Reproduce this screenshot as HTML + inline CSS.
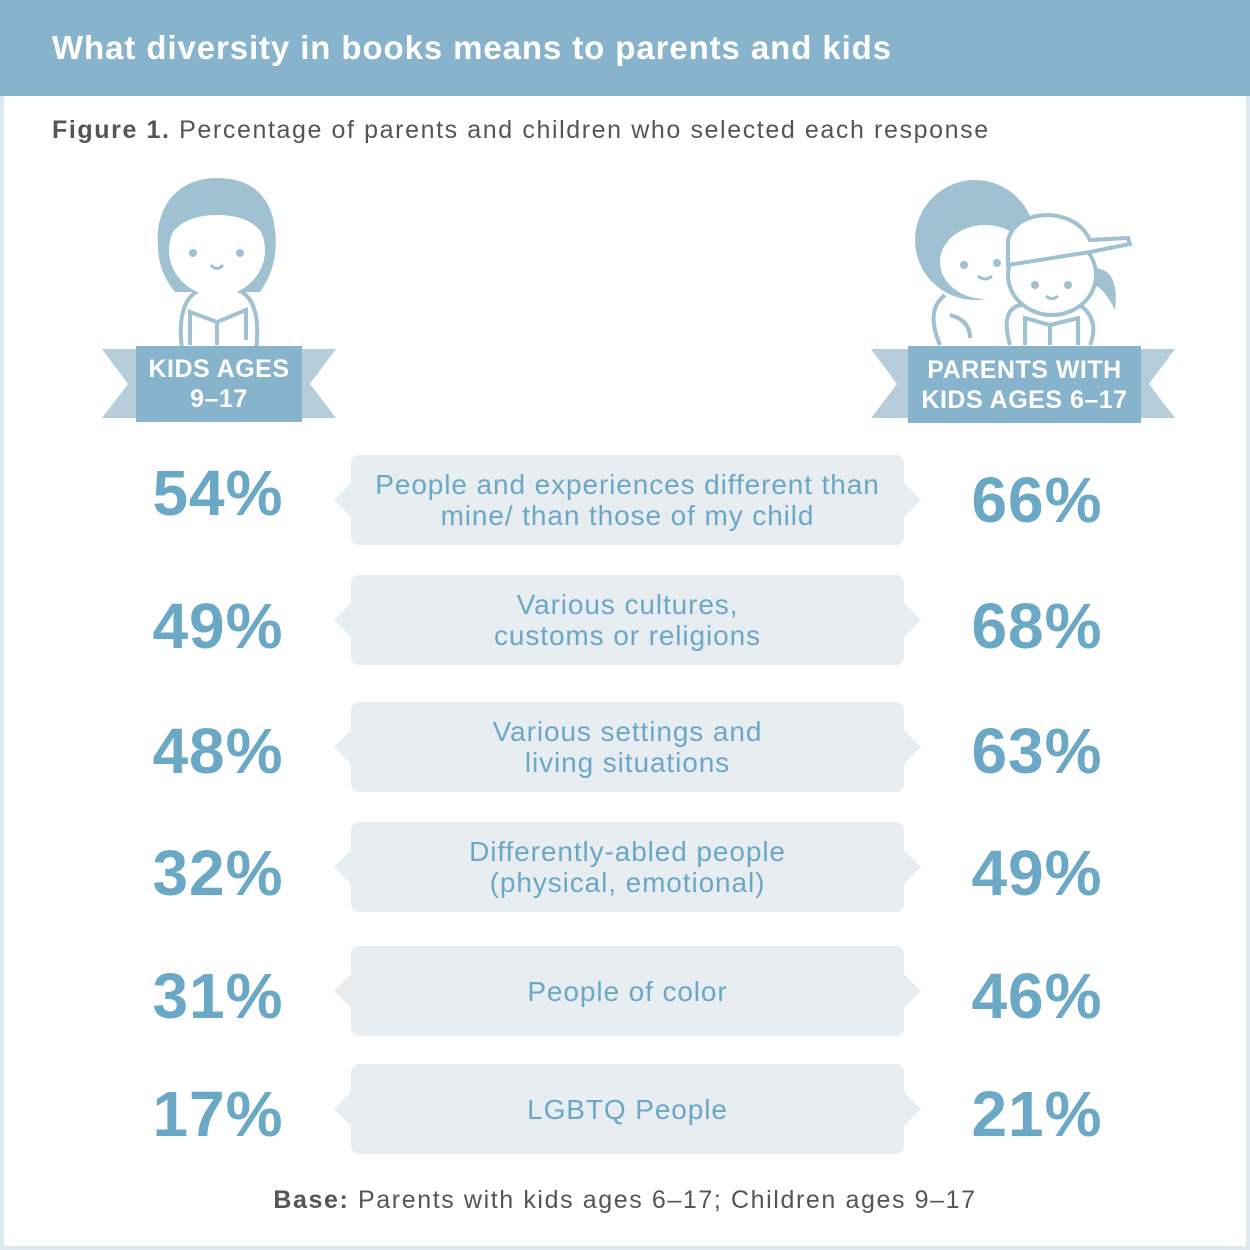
<!DOCTYPE html>
<html><head><style>
body{margin:0;width:1250px;height:1250px;background:#fff;font-family:"Liberation Sans",sans-serif;position:relative;overflow:hidden}
.frame{position:absolute;left:0;top:0;width:1242px;height:1242px;border:4px solid #dde8ef}
.hdr{position:absolute;left:0;top:0;width:1250px;height:96px;background:#87b3cc;color:#fff;font-size:33px;letter-spacing:0.9px;line-height:96px;padding-left:52px;box-sizing:border-box;font-weight:bold}
.fig{position:absolute;left:52px;top:116px;font-size:25px;letter-spacing:1.6px;color:#555}
.box{position:absolute;left:351px;width:553px;height:90px;background:#e8edf1;border-radius:8px;color:#6aa8c5;font-size:28px;letter-spacing:0.9px;text-align:center;display:flex;align-items:center;justify-content:center;line-height:31px}
.box:before{content:"";position:absolute;left:-17px;top:28px;border-right:17px solid #e8edf1;border-top:17px solid transparent;border-bottom:17px solid transparent}
.box:after{content:"";position:absolute;right:-17px;top:28px;border-left:17px solid #e8edf1;border-top:17px solid transparent;border-bottom:17px solid transparent}
.p{position:absolute;width:260px;text-align:center;font-size:64px;letter-spacing:1px;font-weight:bold;color:#6aa8c5;line-height:70px}
.l{left:88px}.r{left:907px}
.base{position:absolute;left:0;width:1250px;top:1186px;text-align:center;font-size:25px;letter-spacing:1.6px;color:#555}
.rib{position:absolute;color:#fff;font-weight:bold;font-size:25px;letter-spacing:0.5px;text-align:center;line-height:30px;background:#87b3cc;display:flex;align-items:center;justify-content:center}
</style></head><body>
<div class="frame"></div>
<div class="hdr">What diversity in books means to parents and kids</div>
<div class="fig"><b>Figure 1.</b> Percentage of parents and children who selected each response</div>

<svg width="1250" height="440" style="position:absolute;left:0;top:0">
<g fill="none" stroke="#a0c1d1" stroke-width="4">
<path d="M182 350 Q176 300 200 290 L238 290 Q262 300 256 350"/>
<path d="M190 345 L190 312 L217 322 L246 310 L246 340 M217 322 L217 345"/>
</g>
<path d="M217 178 C175 178 155 210 158 245 C158 265 165 280 175 292 L260 292 C272 275 278 255 275 230 C272 200 255 178 217 178Z" fill="#a0c1d1"/>
<ellipse cx="217" cy="250" rx="48" ry="46" fill="#fff"/>
<path d="M168 240 Q175 195 217 195 Q260 195 266 240 Q255 215 217 215 Q180 215 168 240Z" fill="#a0c1d1"/>
<circle cx="193" cy="253" r="4" fill="#a0c1d1"/><circle cx="240" cy="253" r="4" fill="#a0c1d1"/>
<path d="M211 265 Q217 272 223 265" stroke="#a0c1d1" stroke-width="3" fill="none"/>
<circle cx="975" cy="240" r="60" fill="#a0c1d1"/>
<ellipse cx="985" cy="262" rx="45" ry="37" fill="#fff"/>
<circle cx="964" cy="265" r="4" fill="#a0c1d1"/><circle cx="997" cy="263" r="4" fill="#a0c1d1"/>
<path d="M978 276 Q985 282 992 276" stroke="#a0c1d1" stroke-width="3" fill="none"/>
<g fill="none" stroke="#a0c1d1" stroke-width="4">
<path d="M940 345 Q925 310 945 295 M950 315 Q970 320 970 338"/>
<path d="M1010 345 Q1000 310 1020 305 L1080 305 Q1100 320 1090 345"/>
<path d="M1025 345 L1025 318 L1050 325 L1078 318 L1078 345 M1050 325 L1050 345"/>
</g>
<ellipse cx="1052" cy="275" rx="44" ry="40" fill="#fff" stroke="#a0c1d1" stroke-width="4"/>
<path d="M1008 265 L1008 240 Q1015 215 1050 215 Q1080 218 1090 240 L1128 238 L1130 244 L1090 252 L1008 265Z" fill="#fff" stroke="#a0c1d1" stroke-width="4"/>
<path d="M1095 268 Q1120 270 1115 310 Q1105 290 1095 285Z" fill="#a0c1d1"/>
<circle cx="1035" cy="285" r="4" fill="#a0c1d1"/><circle cx="1068" cy="285" r="4" fill="#a0c1d1"/>
<path d="M1046 296 Q1052 301 1058 296" stroke="#a0c1d1" stroke-width="3" fill="none"/>
<polygon points="102,349 140,349 140,418 102,418 128,384" fill="#b6cedb"/>
<polygon points="336,349 298,349 298,418 336,418 310,384" fill="#b6cedb"/>
<polygon points="871,349 912,349 912,418 871,418 897,384" fill="#b6cedb"/>
<polygon points="1175,349 1138,349 1138,418 1175,418 1149,384" fill="#b6cedb"/>
</svg>
<div class="rib" style="left:136px;top:346px;width:166px;height:76px">KIDS AGES<br>9–17</div>
<div class="rib" style="left:908px;top:346px;width:233px;height:77px">PARENTS WITH<br>KIDS AGES 6–17</div>

<div class="box" style="top:455px">People and experiences different than<br>mine/ than those of my child</div>
<div class="box" style="top:575px">Various cultures,<br>customs or religions</div>
<div class="box" style="top:702px">Various settings and<br>living situations</div>
<div class="box" style="top:822px">Differently-abled people<br>(physical, emotional)</div>
<div class="box" style="top:946px">People of color</div>
<div class="box" style="top:1064px">LGBTQ People</div>

<div class="p l" style="top:458px">54%</div><div class="p r" style="top:465px">66%</div>
<div class="p l" style="top:591px">49%</div><div class="p r" style="top:591px">68%</div>
<div class="p l" style="top:716px">48%</div><div class="p r" style="top:716px">63%</div>
<div class="p l" style="top:838px">32%</div><div class="p r" style="top:838px">49%</div>
<div class="p l" style="top:961px">31%</div><div class="p r" style="top:961px">46%</div>
<div class="p l" style="top:1079px">17%</div><div class="p r" style="top:1079px">21%</div>

<div class="base"><b>Base:</b> Parents with kids ages 6–17; Children ages 9–17</div>
</body></html>
